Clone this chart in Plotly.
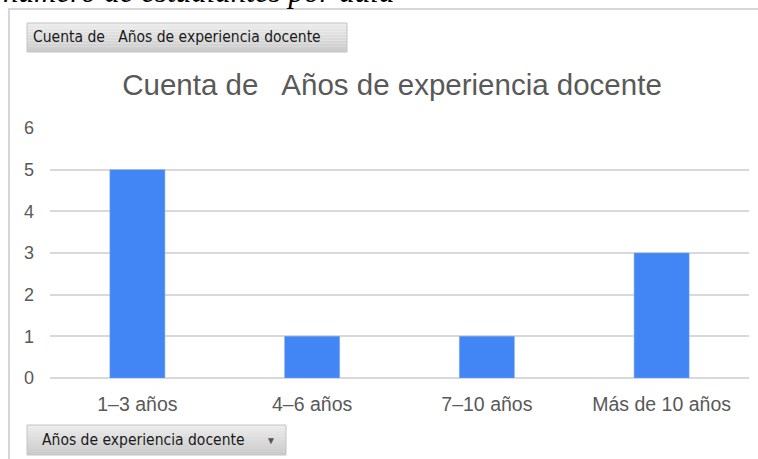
import plotly.graph_objects as go

categories = ["1–3 años", "4–6 años", "7–10 años", "Más de 10 años"]
counts = [5, 1, 1, 3]
y_ticks = [0, 1, 2, 3, 4, 5, 6]

W, H = 758, 459
L, R, T, B = 50, 9, 128, 81
pw, ph = W - L - R, H - T - B

def px(x):
    return (x - L) / pw

def py(y):
    return (H - B - y) / ph

fig = go.Figure(go.Bar(
    x=categories, y=counts,
    marker=dict(color="#4285f4", line=dict(color="#7aa7f7", width=0.5)),
    width=0.315,
    hoverinfo="x+y",
))

shapes = []
# outer frame
shapes.append(dict(type="line", xref="paper", yref="paper", x0=px(9), x1=px(9), y0=py(9), y1=py(470), line=dict(color="#d6d6d6", width=2)))
shapes.append(dict(type="line", xref="paper", yref="paper", x0=px(8), x1=px(770), y0=py(9), y1=py(9), line=dict(color="#d6d6d6", width=2)))

def button(x0, y0, x1, y1):
    n = 10
    top = (236, 236, 236)
    bot = (204, 204, 204)
    for i in range(n):
        t = i / (n - 1)
        c = tuple(int(top[k] + (bot[k] - top[k]) * t) for k in range(3))
        ya = y0 + (y1 - y0) * i / n
        yb = y0 + (y1 - y0) * (i + 1) / n
        shapes.append(dict(type="rect", xref="paper", yref="paper", x0=px(x0), x1=px(x1), y0=py(ya), y1=py(yb),
                           fillcolor="rgb(%d,%d,%d)" % c, line=dict(width=0), layer="below"))
    shapes.append(dict(type="rect", xref="paper", yref="paper", x0=px(x0), x1=px(x1), y0=py(y0), y1=py(y1),
                       fillcolor="rgba(0,0,0,0)", line=dict(color="#c4c4c4", width=1), layer="below"))

button(27, 23, 347, 52)
button(27, 425, 286, 455)

btn_font = dict(family="Liberation Sans Narrow, DejaVu Sans Condensed, Liberation Sans, Arial", size=15.5, color="#1a1a1a")

annotations = [
    dict(text="número de estudiantes por aula", xref="paper", yref="paper", x=px(1), y=py(-9),
         xanchor="left", yanchor="middle", showarrow=False,
         font=dict(family="Liberation Serif, Times New Roman, serif", size=31, color="#000000", style="italic")),
    dict(text="Cuenta de   Años de experiencia docente", xref="paper", yref="paper", x=px(31), y=py(37.5),
         xanchor="left", yanchor="middle", showarrow=False, font=btn_font),
    dict(text="Años de experiencia docente", xref="paper", yref="paper", x=px(40), y=py(440),
         xanchor="left", yanchor="middle", showarrow=False, font=btn_font),
    dict(text="▼", xref="paper", yref="paper", x=px(271), y=py(440),
         xanchor="center", yanchor="middle", showarrow=False, font=dict(size=10, color="#555555")),
]

fig.update_layout(
    width=W, height=H,
    margin=dict(l=L, r=R, t=T, b=B),
    paper_bgcolor="white", plot_bgcolor="white",
    title=dict(text="Cuenta de   Años de experiencia docente", xref="container", x=392 / W, xanchor="center",
               y=1 - 85 / H, yanchor="middle",
               font=dict(family="Liberation Sans, Arial", size=29.5, color="#595959")),
    xaxis=dict(showgrid=False, showline=False, ticks="",
               ticklabelstandoff=12,
               tickfont=dict(family="Liberation Sans, Arial", size=19.5, color="#595959")),
    yaxis=dict(range=[0, 6], tickvals=y_ticks, showgrid=True, gridcolor="#d9d9d9", gridwidth=1.5,
               zeroline=True, zerolinecolor="#d9d9d9", zerolinewidth=1.5, ticks="",
               ticklabelstandoff=15,
               tickfont=dict(family="Liberation Sans, Arial", size=18, color="#595959")),
    shapes=shapes,
    annotations=annotations,
    showlegend=False,
)

fig.write_html("out.html", config={"displayModeBar": False},
               post_script="document.body.style.margin='0';document.body.style.overflow='hidden';")
